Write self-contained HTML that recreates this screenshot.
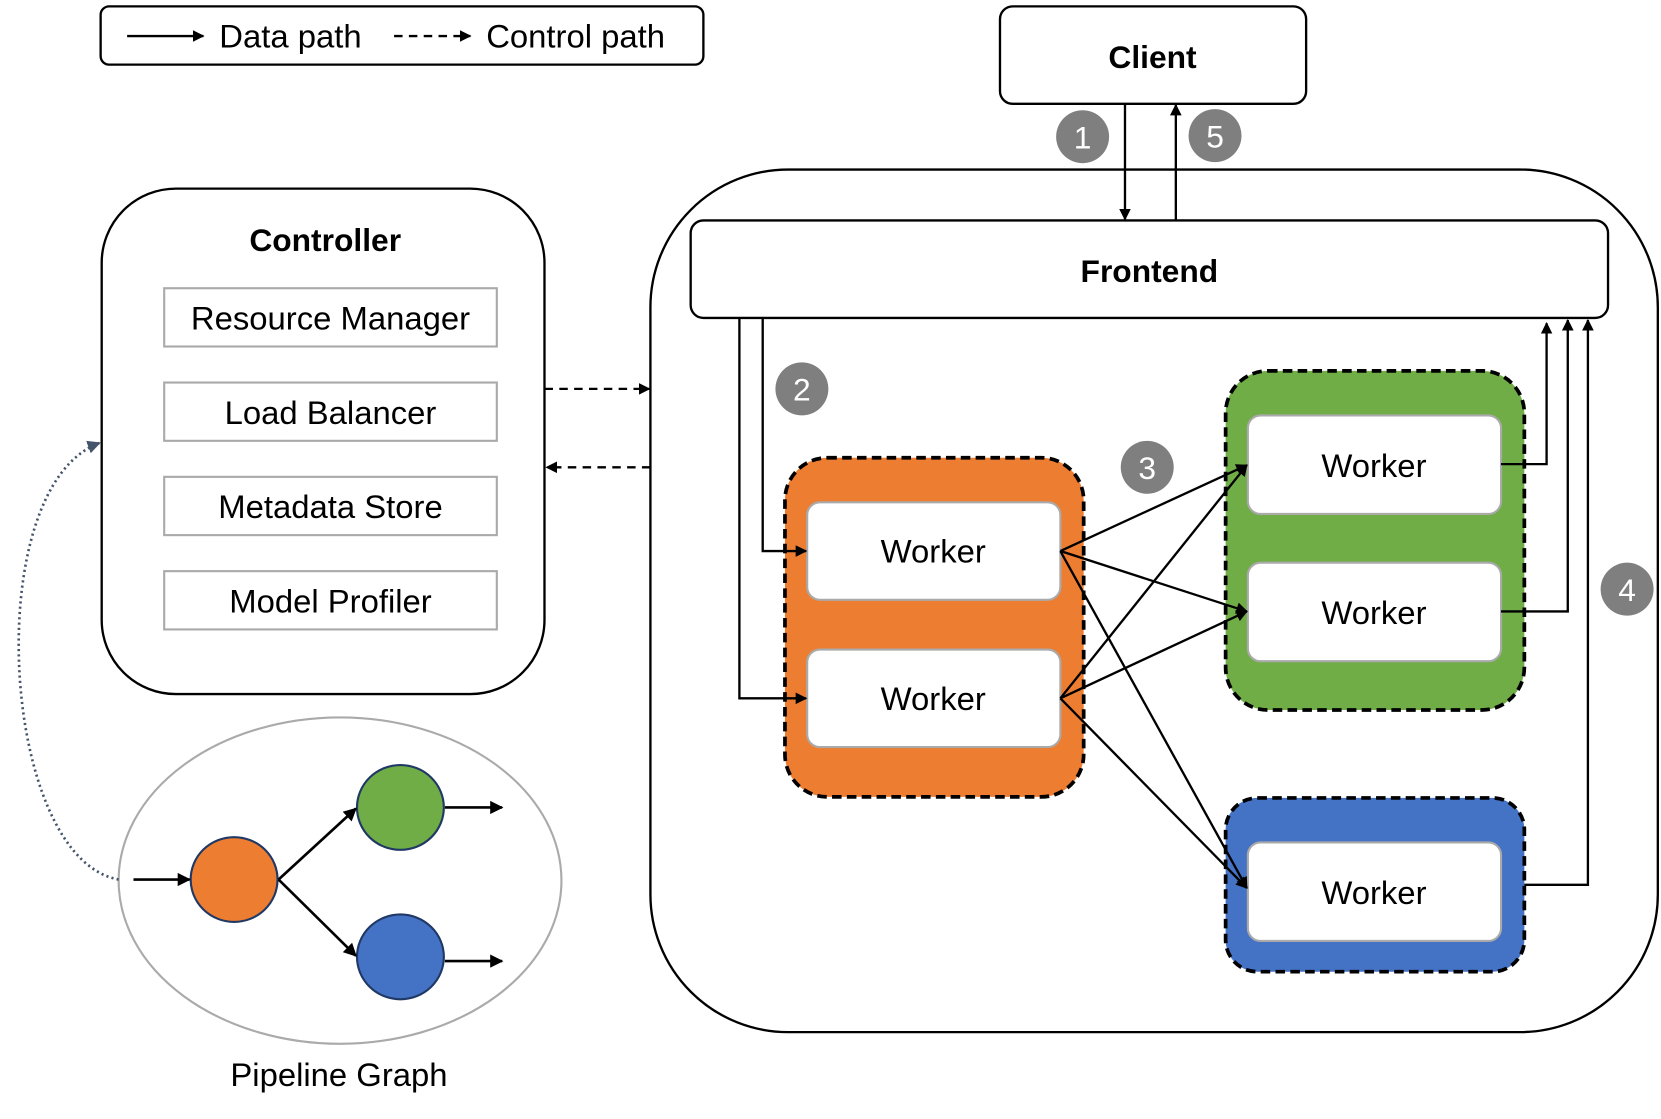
<!DOCTYPE html>
<html><head><meta charset="utf-8"><style>html,body{margin:0;padding:0;background:#fff}svg{display:block}text{font-family:"Liberation Sans",sans-serif}</style></head>
<body>
<svg width="1661" height="1119" viewBox="0 0 1568 1056" preserveAspectRatio="none" xmlns="http://www.w3.org/2000/svg">
<defs>
<marker id="a" viewBox="0 0 10 10" refX="9" refY="5" markerWidth="5" markerHeight="5" orient="auto-start-reverse"><path d="M0,0L10,5L0,10z" fill="#000"/></marker>
<marker id="g" viewBox="0 0 10 10" refX="9" refY="5" markerWidth="5" markerHeight="5" orient="auto"><path d="M0,0L10,5L0,10z" fill="#44546a"/></marker>
</defs>
<g fill="none" stroke="#000" stroke-width="2.2">
<rect x="95" y="6" width="569" height="55" rx="8"/>
<line x1="120" y1="34" x2="192" y2="34" marker-end="url(#a)"/>
<line x1="372" y1="34" x2="444" y2="34" stroke-dasharray="8,6" marker-end="url(#a)"/>
<rect x="944" y="6" width="289" height="92" rx="12"/>
<rect x="614" y="160" width="951" height="814" rx="130" fill="#fff"/>
<rect x="652" y="208" width="866" height="92" rx="12" fill="#fff"/>
<rect x="96" y="178" width="418" height="477" rx="70"/>
<line x1="1062" y1="98" x2="1062" y2="207" marker-end="url(#a)"/>
<line x1="1110" y1="208" x2="1110" y2="99" marker-end="url(#a)"/>
<line x1="514" y1="367" x2="613" y2="367" stroke-dasharray="8,6" marker-end="url(#a)"/>
<line x1="614" y1="441" x2="516" y2="441" stroke-dasharray="8,6" marker-end="url(#a)"/>
</g>
<g fill="#fff" stroke="#aaa" stroke-width="2">
<rect x="155" y="272" width="314" height="55"/><rect x="155" y="361" width="314" height="55"/>
<rect x="155" y="450" width="314" height="55"/><rect x="155" y="539" width="314" height="55"/>
</g>
<g stroke="#000" stroke-width="3.5" stroke-dasharray="9,5">
<rect x="741" y="432" width="282" height="320" rx="40" fill="#ed7d31"/>
<rect x="1157" y="350" width="282" height="320" rx="40" fill="#70ad47"/>
<rect x="1157" y="753" width="282" height="164" rx="30" fill="#4472c4"/>
</g>
<g fill="#fff" stroke="#aaa" stroke-width="2">
<rect x="762" y="474" width="239" height="92" rx="12"/><rect x="762" y="613" width="239" height="92" rx="12"/>
<rect x="1178" y="392" width="239" height="93" rx="12"/><rect x="1178" y="531" width="239" height="93" rx="12"/>
<rect x="1178" y="795" width="239" height="93" rx="12"/>
</g>
<g fill="none" stroke="#000" stroke-width="2.2">
<polyline points="698,300 698,659 761,659" marker-end="url(#a)"/>
<polyline points="720,300 720,520 761,520" marker-end="url(#a)"/>
<polyline points="1417,438 1460,438 1460,305" marker-end="url(#a)"/>
<polyline points="1417,577 1480,577 1480,302" marker-end="url(#a)"/>
<polyline points="1439,835 1499,835 1499,302" marker-end="url(#a)"/>
<line x1="1001" y1="520" x2="1177" y2="439" marker-end="url(#a)"/>
<line x1="1001" y1="520" x2="1177" y2="577" marker-end="url(#a)"/>
<line x1="1001" y1="520" x2="1177" y2="838" marker-end="url(#a)"/>
<line x1="1001" y1="659" x2="1177" y2="439" marker-end="url(#a)"/>
<line x1="1001" y1="659" x2="1177" y2="577" marker-end="url(#a)"/>
<line x1="1001" y1="659" x2="1177" y2="838" marker-end="url(#a)"/>
</g>
<ellipse cx="321" cy="831" rx="209" ry="154" fill="none" stroke="#aaa" stroke-width="2"/>
<g stroke="#1f3864" stroke-width="2">
<ellipse cx="221" cy="830" rx="41" ry="40" fill="#ed7d31"/>
<ellipse cx="378" cy="762" rx="41" ry="40" fill="#70ad47"/>
<ellipse cx="378" cy="903" rx="41" ry="40" fill="#4472c4"/>
</g>
<g stroke="#000" stroke-width="2.5" fill="none">
<line x1="126" y1="830" x2="179" y2="830" marker-end="url(#a)"/>
<line x1="263" y1="830" x2="336" y2="763" marker-end="url(#a)"/>
<line x1="263" y1="830" x2="336" y2="902" marker-end="url(#a)"/>
<line x1="420" y1="762" x2="474" y2="762" marker-end="url(#a)"/>
<line x1="420" y1="907" x2="474" y2="907" marker-end="url(#a)"/>
</g>
<path d="M112,830 C0,810 -20,460 94,418" fill="none" stroke="#44546a" stroke-width="2.5" stroke-dasharray="2,3" marker-end="url(#g)"/>
<g fill="#7f7f7f"><circle cx="1022" cy="129" r="25"/><circle cx="1147" cy="128" r="25"/><circle cx="757" cy="367" r="25"/><circle cx="1083" cy="441" r="25"/><circle cx="1536" cy="556" r="25"/></g>
<g fill="#fff" font-size="30" text-anchor="middle"><text x="1022" y="140">1</text><text x="1147" y="139">5</text><text x="757" y="378">2</text><text x="1083" y="452">3</text><text x="1536" y="567">4</text></g>
<g font-size="31" fill="#000">
<text x="207" y="45">Data path</text><text x="459" y="45">Control path</text>
</g>
<g font-size="31" fill="#000" text-anchor="middle">
<text x="1088" y="64" font-weight="bold" font-size="30">Client</text>
<text x="1085" y="266" font-weight="bold" font-size="30">Frontend</text>
<text x="307" y="237" font-weight="bold" font-size="30">Controller</text>
<text x="312" y="311">Resource Manager</text>
<text x="312" y="400">Load Balancer</text>
<text x="312" y="489">Metadata Store</text>
<text x="312" y="578">Model Profiler</text>
<text x="881" y="531">Worker</text><text x="881" y="670">Worker</text>
<text x="1297" y="450">Worker</text><text x="1297" y="589">Worker</text><text x="1297" y="853">Worker</text>
<text x="320" y="1025">Pipeline Graph</text>
</g>
</svg>
</body></html>
